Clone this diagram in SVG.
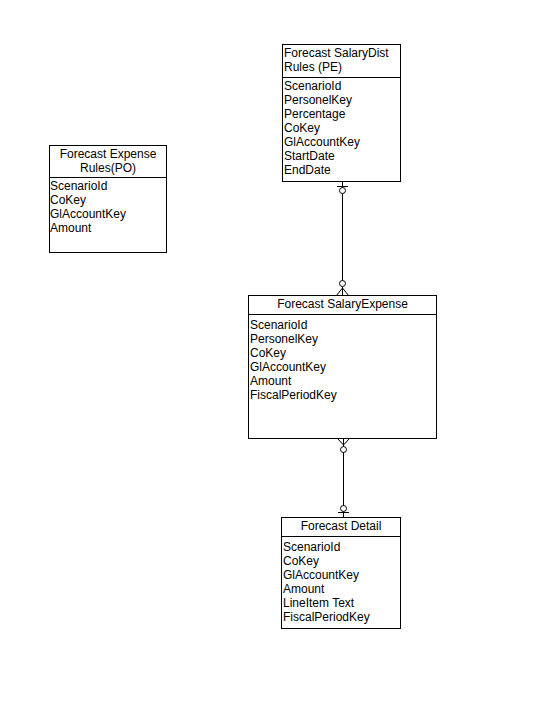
<svg xmlns="http://www.w3.org/2000/svg" width="538" height="728" viewBox="0 0 538 728">
<style>
.box{fill:#fff;stroke:#000;stroke-width:1}
.ln{stroke:#000;stroke-width:1;fill:none}
.t{font-family:"Liberation Sans",Arial,sans-serif;font-size:12px;fill:#000}
.c{text-anchor:middle}
.o{fill:#fff;stroke:#000;stroke-width:1}
</style>
<rect width="538" height="728" fill="#fff"/>
<g id="connectors">
<line class="ln" x1="342.5" y1="181.5" x2="342.5" y2="295.5"/>
<line class="ln" x1="337" y1="186.5" x2="348" y2="186.5"/>
<circle class="o" cx="342.5" cy="190.5" r="3"/>
<circle class="o" cx="342.5" cy="283.5" r="3"/>
<polyline class="ln" points="336.5,295.5 342.5,288 348.5,295.5"/>
<line class="ln" x1="343.5" y1="438.5" x2="343.5" y2="517.5"/>
<polyline class="ln" points="337.5,438.5 343.5,445 349.5,438.5"/>
<circle class="o" cx="343.5" cy="449.5" r="3"/>
<circle class="o" cx="343.5" cy="508.5" r="3"/>
<line class="ln" x1="338" y1="512.5" x2="349" y2="512.5"/>
</g>
<g id="salarydist">
<rect class="box" x="282.5" y="44.5" width="118" height="137"/>
<line class="ln" x1="282.5" y1="77.5" x2="400.5" y2="77.5"/>
<text class="t" x="284" y="57">Forecast SalaryDist</text>
<text class="t" x="284" y="71">Rules (PE)</text>
<text class="t" x="284" y="90">ScenarioId</text>
<text class="t" x="284" y="104">PersonelKey</text>
<text class="t" x="284" y="118">Percentage</text>
<text class="t" x="284" y="132">CoKey</text>
<text class="t" x="284" y="146">GlAccountKey</text>
<text class="t" x="284" y="160">StartDate</text>
<text class="t" x="284" y="174">EndDate</text>
</g>
<g id="expenserules">
<rect class="box" x="49.5" y="145.5" width="117" height="107"/>
<line class="ln" x1="49.5" y1="177.5" x2="166.5" y2="177.5"/>
<text class="t c" x="108" y="158">Forecast Expense</text>
<text class="t c" x="108" y="172">Rules(PO)</text>
<text class="t" x="50" y="190">ScenarioId</text>
<text class="t" x="50" y="204">CoKey</text>
<text class="t" x="50" y="218">GlAccountKey</text>
<text class="t" x="50" y="232">Amount</text>
</g>
<g id="salaryexpense">
<rect class="box" x="248.5" y="295.5" width="188" height="143"/>
<line class="ln" x1="248.5" y1="314.5" x2="436.5" y2="314.5"/>
<text class="t c" x="342.5" y="308">Forecast SalaryExpense</text>
<text class="t" x="250" y="329">ScenarioId</text>
<text class="t" x="250" y="343">PersonelKey</text>
<text class="t" x="250" y="357">CoKey</text>
<text class="t" x="250" y="371">GlAccountKey</text>
<text class="t" x="250" y="385">Amount</text>
<text class="t" x="250" y="399">FiscalPeriodKey</text>
</g>
<g id="forecastdetail">
<rect class="box" x="281.5" y="517.5" width="119" height="111"/>
<line class="ln" x1="281.5" y1="536.5" x2="400.5" y2="536.5"/>
<text class="t c" x="341" y="530">Forecast Detail</text>
<text class="t" x="283" y="551">ScenarioId</text>
<text class="t" x="283" y="565">CoKey</text>
<text class="t" x="283" y="579">GlAccountKey</text>
<text class="t" x="283" y="593">Amount</text>
<text class="t" x="283" y="607">LineItem Text</text>
<text class="t" x="283" y="621">FiscalPeriodKey</text>
</g>
</svg>
